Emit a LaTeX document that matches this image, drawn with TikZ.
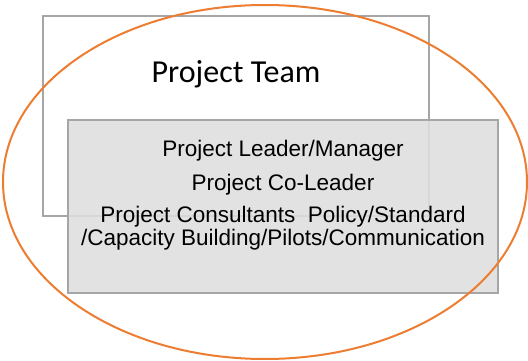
\documentclass[tikz,border=0pt]{standalone}
\usepackage{fontspec}
\setmainfont{Liberation Sans}
\newfontfamily\teamfont{Carlito}
\usepackage{tikz}
\usetikzlibrary{positioning}
\definecolor{boxgray}{RGB}{166,166,166}
\definecolor{fillgray}{RGB}{222,222,222}
\definecolor{ringorange}{RGB}{237,125,49}
\tikzset{
  teambox/.style={draw=boxgray,line width=2.4pt,fill=white,rectangle,inner sep=0pt},
  memberbox/.style={draw=boxgray,line width=2.4pt,fill=fillgray,fill opacity=0.88,draw opacity=1,rectangle,inner sep=0pt},
  memberline/.style={inner sep=0pt,align=center,font=\fontsize{22.5}{23}\selectfont}
}

\begin{document}
\begin{tikzpicture}[x=1pt,y=-1pt,semithick]
  \useasboundingbox (0,0) rectangle (528,361);

  %boxes
  \node[teambox,minimum width=386pt,minimum height=200pt] (team) at (236,116) {};
  \node[memberbox,minimum width=430pt,minimum height=173pt] (members) at (283,206.5) {};

  %labels
  \node[inner sep=0pt,anchor=base,font=\teamfont\fontsize{32}{36}\selectfont] (title) at (236,83) {Project Team};
  \node[memberline,anchor=base] (lead) at (283,157) {Project Leader/Manager};
  \node[memberline,anchor=base] (colead) at (283,190) {Project Co-Leader};
  \node[memberline,anchor=base] (consult) at (283,245) {Project Consultants\ \ Policy/Standard\\/Capacity Building/Pilots/Communication};

  %ring
  \draw[color=ringorange,line width=2pt] (265,182) ellipse (262 and 177);

\end{tikzpicture}
\end{document}
